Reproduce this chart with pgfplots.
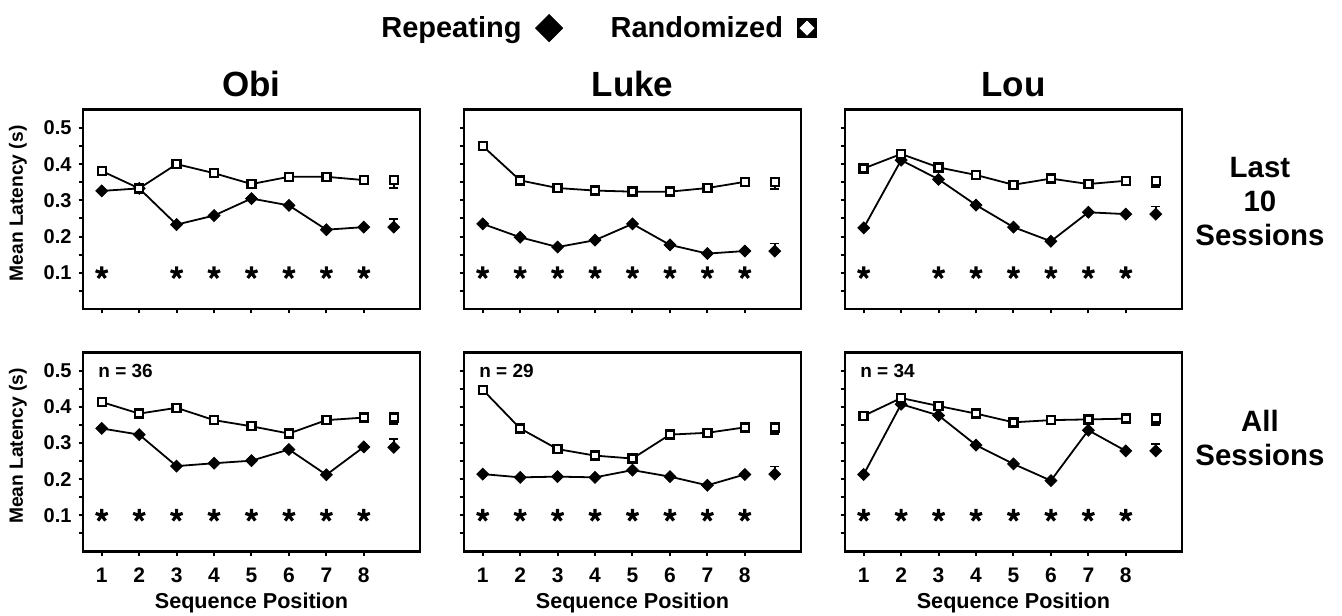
\documentclass[border=0pt]{standalone}
\usepackage{fontspec}
\setmainfont{Liberation Sans}
\usepackage{pgfplots}
\pgfplotsset{compat=1.18}
\usepgfplotslibrary{groupplots}
\usetikzlibrary{calc}

\pgfplotsset{
  rep/.style={black, line width=0.9pt, mark=square*, mark size=2.1pt,
    mark options={rotate=45, fill=black, line width=0.4pt}},
  rnd/.style={black, line width=0.9pt, mark=square*, mark size=2.0pt,
    mark options={fill=white, line width=1.2pt}},
  stars/.style={only marks, black, mark=star, mark size=3.2pt,
    mark options={line width=1.6pt}},
  repmean/.style={black, only marks, mark=square*, mark size=2.1pt,
    mark options={rotate=45, fill=black, line width=0.4pt},
    error bars/.cd, y dir=plus, y explicit,
    error bar style={line width=0.9pt},
    error mark options={rotate=90, mark size=2.2pt, line width=0.9pt}},
  rndmean/.style={black, only marks, mark=square*, mark size=2.0pt,
    mark options={fill=white, line width=1.2pt},
    error bars/.cd, y dir=minus, y explicit,
    error bar style={line width=0.9pt},
    error mark options={rotate=90, mark size=2.2pt, line width=0.9pt}},
}
\tikzset{
  rowlab/.style={align=center, anchor=center,
    font=\fontsize{14.7}{17}\selectfont\bfseries},
  nlab/.style={anchor=west, inner sep=0pt, font=\fontsize{9.5}{11}\selectfont\bfseries},
}

\begin{document}
\begin{tikzpicture}
\begin{groupplot}[
  group style={group size=3 by 2, horizontal sep=22pt, vertical sep=21.7pt,
    xticklabels at=edge bottom, yticklabels at=edge left,
    xlabels at=edge bottom, ylabels at=edge left},
  scale only axis, width=168.5pt, height=99.6pt,
  clip=false,
  xmin=0.5, xmax=9.5, ymin=0, ymax=0.55,
  xtick={1,...,8},
  ytick={0.1,0.2,0.3,0.4,0.5},
  minor ytick={0.05,0.15,0.25,0.35,0.45},
  tick align=outside, tick pos=left,
  major tick length=2.2pt, minor tick length=2.2pt,
  every tick/.style={black, line width=1pt},
  axis line style={line width=1.3pt},
  /pgf/number format/assume math mode=true,
  yticklabel style={font=\fontsize{10}{11}\selectfont\bfseries,
    /pgf/number format/fixed, /pgf/number format/fixed zerofill,
    /pgf/number format/precision=1},
  xticklabel style={font=\fontsize{10.5}{12}\selectfont\bfseries, yshift=-2.5pt},
  xlabel={Sequence Position},
  ylabel={Mean Latency (s)},
  xlabel style={font=\fontsize{10.8}{12}\selectfont\bfseries,
    at={(axis description cs:0.5,0)}, anchor=center, yshift=-25.5pt},
  ylabel style={font=\fontsize{9.6}{11}\selectfont\bfseries,
    at={(axis description cs:0,0.53)}, anchor=center, yshift=32.5pt},
  title style={font=\fontsize{17.5}{20}\selectfont\bfseries,
    at={(0.5,1)}, anchor=base, yshift=0.8pt},
]
% ---- Obi, last 10 sessions
\nextgroupplot[title={Obi}]
\addplot[rep] coordinates {(1,0.326) (2,0.333) (3,0.233) (4,0.258) (5,0.305) (6,0.286) (7,0.219) (8,0.226)};
\addplot[rnd] coordinates {(1,0.381) (2,0.333) (3,0.400) (4,0.375) (5,0.345) (6,0.365) (7,0.365) (8,0.356)};
\addplot[repmean] coordinates {(8.8,0.226) +- (0,0.022)};
\addplot[rndmean] coordinates {(8.8,0.356) +- (0,0.021)};
\addplot[stars] coordinates {(1,0.1) (3,0.1) (4,0.1) (5,0.1) (6,0.1) (7,0.1) (8,0.1)};

% ---- Luke, last 10 sessions
\nextgroupplot[title={Luke},
  legend plot pos=right,
  legend style={draw=none, fill=none, legend columns=2,
    at={(0.395,1.41)}, anchor=center,
    font=\fontsize{14.5}{17}\selectfont\bfseries,
    /tikz/every even column/.append style={column sep=22pt},
    /tikz/every odd column/.append style={column sep=5pt}}]
\addlegendimage{only marks, black, mark=square*, mark size=4.8pt,
  mark options={rotate=45, fill=black}}
\addlegendentry{Repeating}
\addlegendimage{legend image code/.code={
  \fill[black] (0pt,-4.75pt) rectangle (9.5pt,4.75pt);
  \fill[white] (4.75pt,-3.5pt) -- (8.25pt,0pt) -- (4.75pt,3.5pt) -- (1.25pt,0pt) -- cycle;}}
\addlegendentry{Randomized}
\addplot[rep] coordinates {(1,0.235) (2,0.198) (3,0.171) (4,0.190) (5,0.235) (6,0.177) (7,0.153) (8,0.160)};
\addplot[rnd] coordinates {(1,0.450) (2,0.355) (3,0.334) (4,0.327) (5,0.324) (6,0.324) (7,0.334) (8,0.351)};
\addplot[repmean] coordinates {(8.8,0.160) +- (0,0.021)};
\addplot[rndmean] coordinates {(8.8,0.351) +- (0,0.019)};
\addplot[stars] coordinates {(1,0.1) (2,0.1) (3,0.1) (4,0.1) (5,0.1) (6,0.1) (7,0.1) (8,0.1)};

% ---- Lou, last 10 sessions
\nextgroupplot[title={Lou}]
\addplot[rep] coordinates {(1,0.224) (2,0.411) (3,0.358) (4,0.287) (5,0.226) (6,0.187) (7,0.267) (8,0.262)};
\addplot[rnd] coordinates {(1,0.388) (2,0.428) (3,0.391) (4,0.370) (5,0.343) (6,0.360) (7,0.345) (8,0.354)};
\addplot[repmean] coordinates {(8.8,0.262) +- (0,0.021)};
\addplot[rndmean] coordinates {(8.8,0.354) +- (0,0.018)};
\addplot[stars] coordinates {(1,0.1) (3,0.1) (4,0.1) (5,0.1) (6,0.1) (7,0.1) (8,0.1)};
\node[rowlab, xshift=39pt] at (rel axis cs:1,0.54) {Last\\10\\Sessions};

% ---- Obi, all sessions
\nextgroupplot
\addplot[rep] coordinates {(1,0.340) (2,0.323) (3,0.236) (4,0.244) (5,0.251) (6,0.282) (7,0.212) (8,0.289)};
\addplot[rnd] coordinates {(1,0.413) (2,0.381) (3,0.397) (4,0.363) (5,0.346) (6,0.326) (7,0.363) (8,0.370)};
\addplot[repmean] coordinates {(8.8,0.288) +- (0,0.023)};
\addplot[rndmean] coordinates {(8.8,0.370) +- (0,0.018)};
\addplot[stars] coordinates {(1,0.1) (2,0.1) (3,0.1) (4,0.1) (5,0.1) (6,0.1) (7,0.1) (8,0.1)};
\node[nlab] at (axis cs:0.9,0.5) {n = 36};

% ---- Luke, all sessions
\nextgroupplot
\addplot[rep] coordinates {(1,0.214) (2,0.205) (3,0.207) (4,0.205) (5,0.225) (6,0.207) (7,0.183) (8,0.213)};
\addplot[rnd] coordinates {(1,0.447) (2,0.340) (3,0.283) (4,0.265) (5,0.257) (6,0.323) (7,0.328) (8,0.343)};
\addplot[repmean] coordinates {(8.8,0.214) +- (0,0.021)};
\addplot[rndmean] coordinates {(8.8,0.343) +- (0,0.019)};
\addplot[stars] coordinates {(1,0.1) (2,0.1) (3,0.1) (4,0.1) (5,0.1) (6,0.1) (7,0.1) (8,0.1)};
\node[nlab] at (axis cs:0.9,0.5) {n = 29};

% ---- Lou, all sessions
\nextgroupplot
\addplot[rep] coordinates {(1,0.213) (2,0.407) (3,0.376) (4,0.294) (5,0.242) (6,0.196) (7,0.335) (8,0.278)};
\addplot[rnd] coordinates {(1,0.375) (2,0.424) (3,0.402) (4,0.381) (5,0.357) (6,0.363) (7,0.365) (8,0.367)};
\addplot[repmean] coordinates {(8.8,0.278) +- (0,0.019)};
\addplot[rndmean] coordinates {(8.8,0.367) +- (0,0.018)};
\addplot[stars] coordinates {(1,0.1) (2,0.1) (3,0.1) (4,0.1) (5,0.1) (6,0.1) (7,0.1) (8,0.1)};
\node[nlab] at (axis cs:0.9,0.5) {n = 34};
\node[rowlab, xshift=39pt] at (rel axis cs:1,0.568) {All\\Sessions};
\end{groupplot}
\pgfresetboundingbox
\path ($(group c1r1.south west)+(-41.5pt,-153pt)$) rectangle ($(group c1r1.south west)+(629.5pt,154.5pt)$);
\end{tikzpicture}
\end{document}
